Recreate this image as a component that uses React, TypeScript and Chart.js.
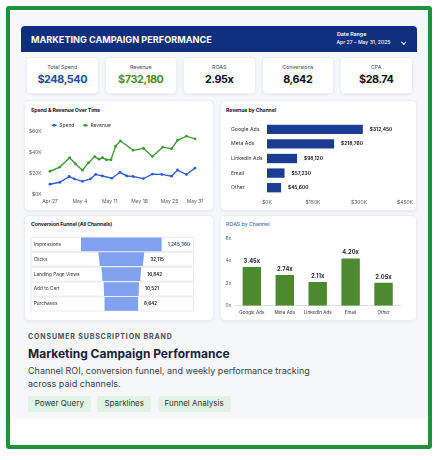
import React, { useEffect, useRef } from 'react';
import { Chart, registerables } from 'chart.js';

Chart.register(...registerables);

const FONT = 'Inter, "Noto Sans", "DejaVu Sans", sans-serif';

// ---------- data ----------
const kpiLabels = ['Total Spend', 'Revenue', 'ROAS', 'Conversions', 'CPA'];
const kpiValues = ['$248,540', '$732,180', '2.95x', '8,642', '$28.74'];

const spendDays = [0, 2.3, 4.5, 5.7, 7.6, 9.5, 10.7, 12.3, 14.5, 16.4, 18, 19.5, 21.9, 24, 26.2, 28.5, 29.9, 32, 34];
const spendK = [9.6, 11.5, 17, 14.7, 12.4, 14.8, 19, 17.5, 15.3, 21, 17.5, 17, 15, 19.3, 19, 17.3, 23.2, 18.9, 25];
const revenueDays = [0, 2.3, 4.6, 6, 7.6, 9, 10.5, 11.5, 12.3, 13.2, 14.3, 15.4, 16.5, 19.5, 21.9, 24, 26.4, 28.5, 29.9, 32, 34];
const revenueK = [22, 26, 35, 29, 23, 30, 36, 33.5, 35, 33, 33, 46, 51, 42, 44, 36, 45, 43.5, 51.5, 55.5, 53];
const dateTickDays = [0, 7, 14, 21, 28, 34];
const dateTickLabels = ['Apr 27', 'May 4', 'May 11', 'May 18', 'May 25', 'May 31'];
const moneyTicksK = [0, 20, 40, 60];

const channels = ['Google Ads', 'Meta Ads', 'LinkedIn Ads', 'Email', 'Other'];
const channelRevenue = [312450, 218760, 98120, 57230, 45600];
const revenueTicks = [0, 150000, 300000, 450000];

const funnelStages = ['Impressions', 'Clicks', 'Landing Page Views', 'Add to Cart', 'Purchases'];
const funnelValues = [1245380, 32115, 16842, 10521, 8642];

const roasChannels = ['Google Ads', 'Meta Ads', 'LinkedIn Ads', 'Email', 'Other'];
const roasValues = [3.45, 2.74, 2.11, 4.2, 2.05];
const roasTicks = [0, 2, 4, 6];

const tags = ['Power Query', 'Sparklines', 'Funnel Analysis'];

// ---------- styles ----------
const NAVY = '#0d2f7d';
const BLUE = '#2f5fd3';
const GREEN_LINE = '#3f9a38';
const BAR_NAVY = '#1a3d92';
const BAR_GREEN = '#4d8a2f';
const FUNNEL_BLUE = '#80a2f0';
const TICK = '#555b66';

const tickFont = { family: FONT, size: 5 };
const noGrid = { display: false, drawTicks: false };

function ChartCanvas({ left, top, width, height, build }: any) {
  const ref = useRef<HTMLCanvasElement>(null);
  useEffect(() => {
    const chart = new Chart(ref.current as HTMLCanvasElement, build());
    return () => chart.destroy();
  }, []);
  return (
    <canvas
      ref={ref}
      width={width}
      height={height}
      style={{ position: 'absolute', left, top, width, height }}
    />
  );
}

function T({ x, cy, size, weight = 400, color = '#222', ls = 0, children }: any) {
  return (
    <div
      style={{
        position: 'absolute',
        left: x,
        top: cy - size * 0.6,
        fontSize: size,
        lineHeight: `${size * 1.2}px`,
        fontWeight: weight,
        color,
        letterSpacing: ls,
        whiteSpace: 'nowrap',
        fontFamily: FONT,
      }}
    >
      {children}
    </div>
  );
}

const cardStyle = (left: number, top: number, width: number, height: number): any => ({
  position: 'absolute',
  left,
  top,
  width,
  height,
  background: '#ffffff',
  borderRadius: 5,
  border: '1px solid #eceef2',
  boxSizing: 'border-box',
  boxShadow: '0 1px 3px rgba(0,0,0,0.06)',
});

// ---------- plugins ----------
const miniLegend = {
  id: 'miniLegend',
  afterDraw(chart: any, _a: any, opts: any) {
    const { ctx, chartArea } = chart;
    let x = chartArea.left + (opts.dx || 0);
    const y = chartArea.top + (opts.dy || 0);
    ctx.save();
    ctx.font = `400 ${opts.size || 5}px ${FONT}`;
    ctx.textBaseline = 'middle';
    ctx.textAlign = 'left';
    chart.data.datasets.forEach((ds: any) => {
      ctx.strokeStyle = ds.borderColor;
      ctx.fillStyle = ds.borderColor;
      ctx.lineWidth = 1.3;
      ctx.beginPath();
      ctx.moveTo(x, y);
      ctx.lineTo(x + 5, y);
      ctx.stroke();
      ctx.beginPath();
      ctx.arc(x + 2.5, y, 1.5, 0, Math.PI * 2);
      ctx.fill();
      ctx.fillStyle = '#333';
      ctx.fillText(ds.label, x + 7.5, y);
      x += 7.5 + ctx.measureText(ds.label).width + 8.5;
    });
    ctx.restore();
  },
};

const barValueLabels = {
  id: 'barValueLabels',
  afterDatasetsDraw(chart: any, _args: any, opts: any) {
    const ctx = chart.ctx;
    const meta = chart.getDatasetMeta(0);
    const ds = chart.data.datasets[0];
    ctx.save();
    ctx.font = `700 ${opts.size || 6}px ${FONT}`;
    ctx.fillStyle = opts.color || '#222';
    meta.data.forEach((el: any, i: number) => {
      const text = opts.format(ds.data[i]);
      if (opts.horizontal) {
        ctx.textAlign = 'left';
        ctx.textBaseline = 'middle';
        ctx.fillText(text, el.x + 7, el.y);
      } else {
        ctx.textAlign = 'center';
        ctx.textBaseline = 'bottom';
        ctx.fillText(text, el.x, el.y - 3);
      }
    });
    ctx.restore();
  },
};

// ---------- chart configs ----------
const lineConfig = (): any => ({
  type: 'line',
  data: {
    datasets: [
      {
        label: 'Spend',
        data: spendDays.map((d, i) => ({ x: d, y: spendK[i] * 1000 })),
        borderColor: BLUE,
        backgroundColor: BLUE,
        borderWidth: 1.4,
        pointRadius: 1.4,
        pointBorderWidth: 0,
        pointBackgroundColor: BLUE,
        tension: 0,
      },
      {
        label: 'Revenue',
        data: revenueDays.map((d, i) => ({ x: d, y: revenueK[i] * 1000 })),
        borderColor: GREEN_LINE,
        backgroundColor: GREEN_LINE,
        borderWidth: 1.4,
        pointRadius: 1.4,
        pointBorderWidth: 0,
        pointBackgroundColor: GREEN_LINE,
        tension: 0,
      },
    ],
  },
  options: {
    responsive: false,
    animation: false,
    layout: { padding: { top: 4.7, right: 14.7, left: 0, bottom: 0 } },
    plugins: {
      legend: { display: false },
      tooltip: { enabled: false },
      miniLegend: { dx: 6, dy: 4.3, size: 5 },
    },
    scales: {
      x: {
        type: 'linear',
        min: -1,
        max: 35,
        grid: noGrid,
        border: { display: false },
        afterBuildTicks: (a: any) => {
          a.ticks = dateTickDays.map((v) => ({ value: v }));
        },
        afterFit: (a: any) => {
          a.height = 16.7;
        },
        ticks: {
          autoSkip: false,
          maxRotation: 0,
          padding: 4,
          color: TICK,
          font: tickFont,
          callback: (v: any) => {
            const i = dateTickDays.indexOf(Number(v));
            return i >= 0 ? dateTickLabels[i] : '';
          },
        },
      },
      y: {
        min: 0,
        max: 70000,
        grid: noGrid,
        border: { display: false },
        afterBuildTicks: (a: any) => {
          a.ticks = moneyTicksK.map((v) => ({ value: v * 1000 }));
        },
        afterFit: (a: any) => {
          a.width = 21.7;
        },
        ticks: {
          padding: 4,
          color: TICK,
          font: tickFont,
          callback: (v: any) => '$' + Number(v) / 1000 + 'K',
        },
      },
    },
  },
  plugins: [miniLegend],
});

const revenueConfig = (): any => ({
  type: 'bar',
  data: {
    labels: channels,
    datasets: [
      {
        data: channelRevenue,
        backgroundColor: BAR_NAVY,
        barPercentage: 0.64,
        categoryPercentage: 1,
      },
    ],
  },
  options: {
    indexAxis: 'y',
    responsive: false,
    animation: false,
    layout: { padding: { left: 11, right: 11, top: 8, bottom: 0 } },
    plugins: {
      legend: { display: false },
      tooltip: { enabled: false },
      barValueLabels: {
        horizontal: true,
        size: 4.8,
        color: '#222',
        format: (v: number) => '$' + v.toLocaleString('en-US'),
      },
    },
    scales: {
      x: {
        min: 0,
        max: 450000,
        grid: noGrid,
        border: { display: false },
        afterBuildTicks: (a: any) => {
          a.ticks = revenueTicks.map((v) => ({ value: v }));
        },
        afterFit: (a: any) => {
          a.height = 16;
        },
        ticks: {
          maxRotation: 0,
          padding: 4,
          color: TICK,
          font: tickFont,
          callback: (v: any) => '$' + Number(v) / 1000 + 'K',
        },
      },
      y: {
        grid: noGrid,
        border: { display: false },
        afterFit: (a: any) => {
          a.width = 36;
        },
        ticks: { crossAlign: 'far', padding: 4, color: '#333', font: { family: FONT, size: 5.2 } },
      },
    },
  },
  plugins: [barValueLabels],
});

const roasConfig = (): any => ({
  type: 'bar',
  data: {
    labels: roasChannels,
    datasets: [
      {
        data: roasValues,
        backgroundColor: BAR_GREEN,
        barPercentage: 0.56,
        categoryPercentage: 1,
      },
    ],
  },
  options: {
    responsive: false,
    animation: false,
    layout: { padding: { left: 0, right: 17, top: 10.3, bottom: 0 } },
    plugins: {
      legend: { display: false },
      tooltip: { enabled: false },
      barValueLabels: {
        horizontal: false,
        size: 5.8,
        color: '#1d2430',
        format: (v: number) => v.toFixed(2) + 'x',
      },
    },
    scales: {
      x: {
        grid: noGrid,
        border: { display: true, color: '#d6dae0', width: 0.8 },
        afterFit: (a: any) => {
          a.height = 15.3;
        },
        ticks: {
          maxRotation: 0,
          autoSkip: false,
          padding: 4,
          color: '#333',
          font: { family: FONT, size: 4.6 },
        },
      },
      y: {
        min: 0,
        max: 6,
        grid: noGrid,
        border: { display: false },
        afterBuildTicks: (a: any) => {
          a.ticks = roasTicks.map((v) => ({ value: v }));
        },
        afterFit: (a: any) => {
          a.width = 15.4;
        },
        ticks: { padding: 4, color: TICK, font: tickFont, callback: (v: any) => v + 'x' },
      },
    },
  },
  plugins: [barValueLabels],
});

const funnelPlugin = {
  id: 'funnelShapes',
  beforeDatasetsDraw(chart: any) {
    const { ctx, chartArea } = chart;
    const ys = chart.scales.y;
    const step = ys.getPixelForValue(1) - ys.getPixelForValue(0);
    ctx.save();
    ctx.lineWidth = 0.8;
    ctx.strokeStyle = '#e3e6eb';
    ctx.fillStyle = '#ffffff';
    chart.data.labels.forEach((_lab: string, i: number) => {
      const top = ys.getPixelForValue(i) - step / 2;
      ctx.beginPath();
      ctx.rect(chartArea.left + 0.5, top + 0.5, chartArea.right - chartArea.left - 1, step - 1);
      ctx.fill();
      ctx.stroke();
    });
    ctx.fillStyle = '#333';
    ctx.font = `400 4.8px ${FONT}`;
    ctx.textAlign = 'left';
    ctx.textBaseline = 'middle';
    chart.data.labels.forEach((lab: string, i: number) => {
      ctx.fillText(lab, chartArea.left + 3, ys.getPixelForValue(i));
    });
    ctx.restore();
  },
  afterDatasetsDraw(chart: any) {
    const { ctx } = chart;
    const meta = chart.getDatasetMeta(0);
    const els = meta.data;
    const n = els.length;
    ctx.save();
    els.forEach((el: any, i: number) => {
      const l = Math.min(el.x, el.base);
      const r = Math.max(el.x, el.base);
      const cx = (l + r) / 2;
      const ht = (r - l) / 2;
      let hb = ht;
      if (i > 0 && i < n - 1) {
        const nx = els[i + 1];
        const nh = Math.abs(nx.x - nx.base) / 2;
        hb = (ht + nh) / 2;
      }
      const t = el.y - el.height / 2;
      const b = el.y + el.height / 2;
      ctx.beginPath();
      ctx.moveTo(cx - ht, t);
      ctx.lineTo(cx + ht, t);
      ctx.lineTo(cx + hb, b);
      ctx.lineTo(cx - hb, b);
      ctx.closePath();
      ctx.fillStyle = FUNNEL_BLUE;
      ctx.fill();
      ctx.font = `600 4.6px ${FONT}`;
      ctx.fillStyle = i === 0 ? '#2c4a8c' : '#222';
      ctx.textAlign = 'left';
      ctx.textBaseline = 'middle';
      ctx.fillText(funnelValues[i].toLocaleString('en-US'), cx + ht + 6, el.y);
    });
    ctx.restore();
  },
};

const funnelConfig = (): any => ({
  type: 'bar',
  data: {
    labels: funnelStages,
    datasets: [
      {
        data: funnelValues.map((v) => {
          const h = Math.log10(v) - 2.4;
          return [-h, h];
        }),
        backgroundColor: 'rgba(0,0,0,0)',
        barPercentage: 0.92,
        categoryPercentage: 1,
      },
    ],
  },
  options: {
    indexAxis: 'y',
    responsive: false,
    animation: false,
    layout: { padding: { left: 6.7, right: 20, top: 6.85, bottom: 9.6 } },
    plugins: { legend: { display: false }, tooltip: { enabled: false } },
    scales: {
      x: { display: false, min: -8.3, max: 6.66 },
      y: { display: false },
    },
  },
  plugins: [funnelPlugin],
});

export default function App() {
  const kpiColors = ['#1f4aa6', '#4a8a35', '#111', '#111', '#111'];
  return (
    <div
      style={{
        position: 'absolute',
        left: 0,
        top: 0,
        width: 439,
        height: 460,
        background: '#ffffff',
        fontFamily: FONT,
        overflow: 'hidden',
      }}
    >
      <div
        style={{
          position: 'absolute',
          left: 6,
          top: 6,
          width: 426,
          height: 443,
          border: '4px solid #24913a',
          borderRadius: 3,
          boxSizing: 'border-box',
          background: '#ffffff',
        }}
      />
      <div
        style={{
          position: 'absolute',
          left: 12,
          top: 12,
          width: 415,
          height: 407,
          background: '#f6f7f9',
          borderRadius: 4,
        }}
      />

      {/* header */}
      <div
        style={{
          position: 'absolute',
          left: 21,
          top: 26,
          width: 396,
          height: 26,
          background: NAVY,
          borderRadius: '4px 4px 0 0',
        }}
      />
      <T x={31} cy={39.5} size={9.15} weight={700} color="#ffffff">
        MARKETING CAMPAIGN PERFORMANCE
      </T>
      <T x={337} cy={34} size={5.3} weight={600} color="#ffffff">
        Date Range
      </T>
      <T x={336.5} cy={42.5} size={5.1} weight={500} color="#ffffff">
        Apr 27 – May 31, 2025
      </T>
      <div
        style={{
          position: 'absolute',
          left: 402,
          top: 40,
          width: 2.5,
          height: 2.5,
          borderRight: '1px solid #fff',
          borderBottom: '1px solid #fff',
          transform: 'rotate(45deg)',
        }}
      />

      {/* KPI cards */}
      {kpiLabels.map((lab, i) => {
        const left = 26 + i * 78.5;
        return (
          <React.Fragment key={lab}>
            <div style={{ ...cardStyle(left, 57, 72.5, 37), borderRadius: 4 }} />
            <div
              style={{
                position: 'absolute',
                left,
                width: 72.5,
                top: 63.5,
                textAlign: 'center',
                fontSize: 5.3,
                lineHeight: '7px',
                color: '#3a4560',
                fontFamily: FONT,
              }}
            >
              {lab}
            </div>
            <div
              style={{
                position: 'absolute',
                left,
                width: 72.5,
                top: 73,
                textAlign: 'center',
                fontSize: 10.8,
                lineHeight: '14px',
                fontWeight: 700,
                letterSpacing: -0.4,
                color: kpiColors[i],
                fontFamily: FONT,
              }}
            >
              {kpiValues[i]}
            </div>
          </React.Fragment>
        );
      })}

      {/* chart cards */}
      <div style={cardStyle(24, 100, 190, 111)} />
      <div style={cardStyle(220, 100, 197, 111)} />
      <div style={cardStyle(24, 215, 190, 106)} />
      <div style={cardStyle(220, 215, 197, 106)} />

      <T x={31} cy={109.7} size={5.2} weight={700} color="#1b2330" ls={-0.1}>
        Spend &amp; Revenue Over Time
      </T>
      <T x={226} cy={109.7} size={5.2} weight={700} color="#1b2330" ls={-0.1}>
        Revenue by Channel
      </T>
      <T x={31} cy={224} size={5.2} weight={700} color="#1b2330" ls={-0.1}>
        Conversion Funnel (All Channels)
      </T>
      <T x={226} cy={224} size={5.2} weight={500} color="#3a6fa8">
        ROAS by Channel
      </T>

      <ChartCanvas left={24} top={114} width={190} height={97} build={lineConfig} />
      <ChartCanvas left={220} top={114} width={197} height={97} build={revenueConfig} />
      <ChartCanvas left={24} top={230} width={190} height={91} build={funnelConfig} />
      <ChartCanvas left={220} top={228} width={197} height={93} build={roasConfig} />

      {/* bottom text */}
      <T x={28} cy={336.7} size={7} weight={700} color="#4b5060" ls={0.85}>
        CONSUMER SUBSCRIPTION BRAND
      </T>
      <T x={28} cy={354} size={12} weight={700} color="#18213a">
        Marketing Campaign Performance
      </T>
      <T x={28} cy={371.7} size={9} weight={400} color="#3a4150">
        Channel ROI, conversion funnel, and weekly performance tracking
      </T>
      <T x={28} cy={384.2} size={9} weight={400} color="#3a4150">
        across paid channels.
      </T>
      <div
        style={{
          position: 'absolute',
          left: 27.7,
          top: 396,
          display: 'flex',
          gap: 6.5,
        }}
      >
        {tags.map((t) => (
          <div
            key={t}
            style={{
              height: 15.5,
              lineHeight: '15.5px',
              padding: '0 7px',
              background: '#e2f2e5',
              borderRadius: 3,
              fontSize: 8,
              color: '#2b3a2d',
              fontFamily: FONT,
              whiteSpace: 'nowrap',
            }}
          >
            {t}
          </div>
        ))}
      </div>
    </div>
  );
}
